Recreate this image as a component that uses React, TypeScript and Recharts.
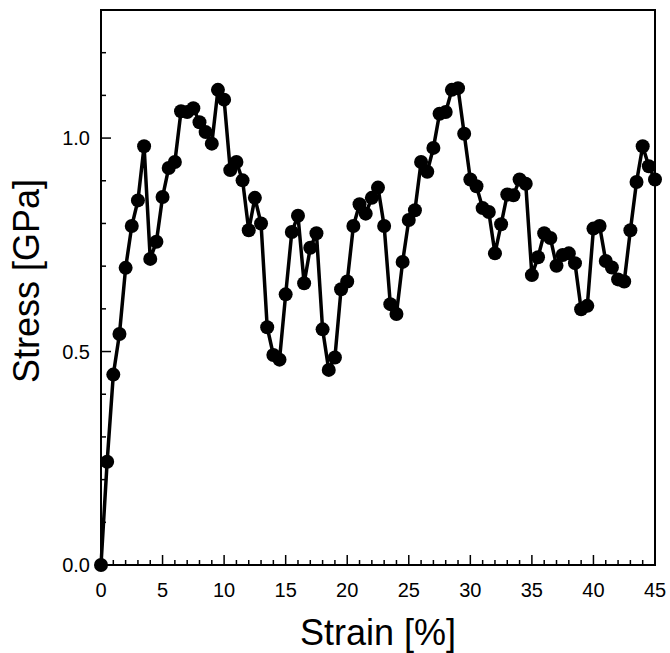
import {
  ComposedChart,
  Line,
  XAxis,
  YAxis,
  ReferenceArea,
} from "recharts";

const strain = [
  0, 0.5, 1, 1.5, 2, 2.5, 3, 3.5, 4, 4.5, 5, 5.5, 6, 6.5, 7, 7.5, 8, 8.5, 9, 9.5,
  10, 10.5, 11, 11.5, 12, 12.5, 13, 13.5, 14, 14.5, 15, 15.5, 16, 16.5, 17, 17.5,
  18, 18.5, 19, 19.5, 20, 20.5, 21, 21.5, 22, 22.5, 23, 23.5, 24, 24.5, 25, 25.5,
  26, 26.5, 27, 27.5, 28, 28.5, 29, 29.5, 30, 30.5, 31, 31.5, 32, 32.5, 33, 33.5,
  34, 34.5, 35, 35.5, 36, 36.5, 37, 37.5, 38, 38.5, 39, 39.5, 40, 40.5, 41, 41.5,
  42, 42.5, 43, 43.5, 44, 44.5, 45,
];

const stress = [
  0, 0.242, 0.446, 0.541, 0.696, 0.794, 0.854, 0.981, 0.717, 0.757, 0.862, 0.93,
  0.944, 1.063, 1.061, 1.07, 1.037, 1.014, 0.987, 1.113, 1.09, 0.925, 0.944, 0.901,
  0.784, 0.86, 0.8, 0.557, 0.492, 0.481, 0.634, 0.78, 0.818, 0.66, 0.743, 0.777,
  0.552, 0.457, 0.486, 0.646, 0.664, 0.794, 0.845, 0.823, 0.86, 0.884, 0.794, 0.611,
  0.588, 0.71, 0.808, 0.831, 0.944, 0.921, 0.977, 1.057, 1.061, 1.113, 1.117, 1.01,
  0.903, 0.887, 0.836, 0.827, 0.73, 0.798, 0.868, 0.866, 0.903, 0.893, 0.679, 0.721,
  0.777, 0.766, 0.701, 0.726, 0.73, 0.707, 0.599, 0.607, 0.788, 0.794, 0.712, 0.697,
  0.669, 0.664, 0.784, 0.897, 0.981, 0.934, 0.903,
];

const xTicks = [
  0, 1, 2, 3, 4, 5, 6, 7, 8, 9, 10, 11, 12, 13, 14, 15, 16, 17, 18, 19, 20, 21, 22,
  23, 24, 25, 26, 27, 28, 29, 30, 31, 32, 33, 34, 35, 36, 37, 38, 39, 40, 41, 42,
  43, 44, 45,
];
const xLabels = [0, 5, 10, 15, 20, 25, 30, 35, 40, 45];

const yTicks = [0, 0.1, 0.2, 0.3, 0.4, 0.5, 0.6, 0.7, 0.8, 0.9, 1.0, 1.1, 1.2, 1.3];
const yLabels = [0, 0.5, 1.0];

const data = strain.map((s, i) => ({ strain: s, stress: stress[i] }));

const FONT = "'Liberation Sans', Arial, sans-serif";

function XTick(props: any) {
  const { x, y, payload } = props;
  const v = payload.value;
  const major = xLabels.includes(v);
  return (
    <g>
      <line x1={x} x2={x} y1={y} y2={y - (major ? 10 : 5)} stroke="#000" strokeWidth={1.5} />
      {major && (
        <text x={x} y={y + 32} textAnchor="middle" fontSize={20} fontFamily={FONT} fill="#000">
          {v}
        </text>
      )}
    </g>
  );
}

function YTick(props: any) {
  const { x, y, payload } = props;
  const v = payload.value;
  const major = yLabels.some((l) => Math.abs(l - v) < 1e-6);
  return (
    <g>
      <line x1={x} x2={x + (major ? 10 : 5)} y1={y} y2={y} stroke="#000" strokeWidth={1.5} />
      {major && (
        <text x={x - 11} y={y + 7} textAnchor="end" fontSize={20} fontFamily={FONT} fill="#000">
          {v.toFixed(1)}
        </text>
      )}
    </g>
  );
}

export default function App() {
  return (
    <div style={{ position: "absolute", left: 0, top: 0, width: 670, height: 653, background: "#fff" }}>
      <ComposedChart
        width={670}
        height={653}
        data={data}
        margin={{ top: 10, right: 15, left: 0, bottom: 0 }}
      >
        <XAxis
          dataKey="strain"
          type="number"
          domain={[0, 45]}
          ticks={xTicks}
          interval={0}
          height={88}
          tickSize={0}
          tickMargin={0}
          axisLine={false}
          tickLine={false}
          tick={(p: any) => <XTick {...p} />}
          label={{
            content: () => (
              <text x={378} y={645} textAnchor="middle" fontSize={36} fontFamily={FONT} fill="#000">
                Strain [%]
              </text>
            ),
          }}
        />
        <YAxis
          type="number"
          domain={[0, 1.3]}
          ticks={yTicks}
          interval={0}
          width={101}
          tickSize={0}
          tickMargin={0}
          axisLine={false}
          tickLine={false}
          tick={(p: any) => <YTick {...p} />}
          label={{
            content: () => (
              <text
                x={39}
                y={281}
                transform="rotate(-90 39 281)"
                textAnchor="middle"
                fontSize={36}
                fontFamily={FONT}
                fill="#000"
              >
                Stress [GPa]
              </text>
            ),
          }}
        />
        <ReferenceArea x1={0} x2={45} y1={0} y2={1.3} fill="none" stroke="#000" strokeWidth={2} ifOverflow="visible" />
        <Line
          dataKey="stress"
          stroke="#000"
          strokeWidth={3.5}
          dot={{ r: 7, fill: "#000", stroke: "#000", strokeWidth: 0 }}
          isAnimationActive={false}
        />
      </ComposedChart>
    </div>
  );
}
